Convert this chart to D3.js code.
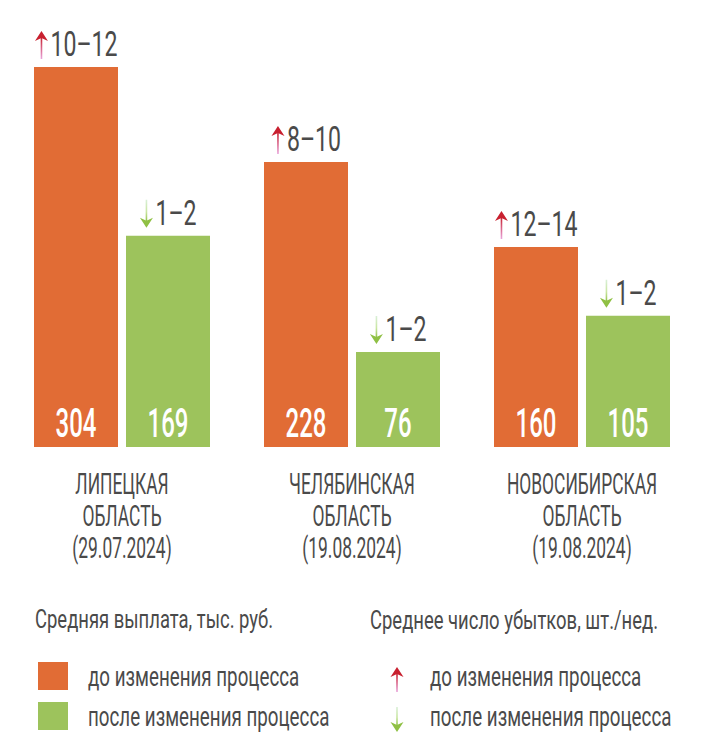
<!DOCTYPE html>
<html>
<head>
<meta charset="utf-8">
<script src="https://cdn.jsdelivr.net/npm/d3@7"></script>
<style>
  html, body { margin: 0; padding: 0; background: #ffffff; }
  svg { display: block; font-family: Roboto, "Noto Sans", sans-serif; }
</style>
</head>
<body>
<svg id="chart" width="713" height="755"></svg>
<script>
// ---- data ----
const regions = ["Липецкая", "Челябинская", "Новосибирская"];
const regionLines = [
  ["ЛИПЕЦКАЯ", "ОБЛАСТЬ", "(29.07.2024)"],
  ["ЧЕЛЯБИНСКАЯ", "ОБЛАСТЬ", "(19.08.2024)"],
  ["НОВОСИБИРСКАЯ", "ОБЛАСТЬ", "(19.08.2024)"]
];
const payoutBefore = [304, 228, 160];
const payoutAfter = [169, 76, 105];
const lossesBefore = ["10–12", "8–10", "12–14"];
const lossesAfter = ["1–2", "1–2", "1–2"];
const seriesKeys = ["before", "after"];
const legendPayoutTitle = "Средняя выплата, тыс. руб.";
const legendLossTitle = "Среднее число убытков, шт./нед.";
const legendLabels = ["до изменения процесса", "после изменения процесса"];

// ---- styles ----
const COLORS = { before: "#e16c35", after: "#9dc35c" };
const TEXT = "#4a4a4a";
const SX = 0.64; // horizontal condensation

const svg = d3.select("#chart");
const defs = svg.append("defs");
const gUp = defs.append("linearGradient").attr("id", "gradUp").attr("x1", 0).attr("y1", 0).attr("x2", 0).attr("y2", 1);
gUp.append("stop").attr("offset", "0%").attr("stop-color", "#c8202f");
gUp.append("stop").attr("offset", "100%").attr("stop-color", "#e9a6dc");
const gDown = defs.append("linearGradient").attr("id", "gradDown").attr("x1", 0).attr("y1", 0).attr("x2", 0).attr("y2", 1);
gDown.append("stop").attr("offset", "0%").attr("stop-color", "#d9efd8");
gDown.append("stop").attr("offset", "55%").attr("stop-color", "#c9e6a0");
gDown.append("stop").attr("offset", "100%").attr("stop-color", "#8fc044");

// ---- scales ----
const x0 = d3.scaleBand().domain(regions).range([34, 670]).paddingInner(54 / 230).paddingOuter(0);
const x1 = d3.scaleBand().domain(seriesKeys).range([0, x0.bandwidth()]).paddingInner(8 / 92).paddingOuter(0);
const y = d3.scaleLinear().domain([0, 320]).range([447, 47]);

const data = regions.map((r, i) => ({
  region: r, i,
  values: [
    { key: "before", value: payoutBefore[i], loss: lossesBefore[i] },
    { key: "after", value: payoutAfter[i], loss: lossesAfter[i] }
  ]
}));

// condensed text helper
function ctext(parent, x, yy, str, size, opts = {}) {
  const g = parent.append("g").attr("transform", `translate(${x},${yy}) scale(${opts.sx || SX},1)`);
  const t = g.append("text")
    .attr("x", 0).attr("y", 0)
    .attr("text-anchor", opts.anchor || "start")
    .attr("font-size", size)
    .attr("font-weight", opts.weight || 400)
    .attr("fill", opts.fill || TEXT)
    .text(str);
  return { g, width: t.node().getComputedTextLength() * (opts.sx || SX) };
}

function arrow(parent, cx, base, up, h) {
  const g = parent.append("g");
  const top = base - h;
  if (up) {
    g.append("rect").attr("x", cx - 0.8).attr("y", top + 6).attr("width", 1.6).attr("height", h - 6)
      .attr("fill", "url(#gradUp)");
    g.append("path").attr("d", `M${cx},${top} L${cx + 6.5},${top + 10} L${cx},${top + 7} L${cx - 6.5},${top + 10} Z`)
      .attr("fill", "#c8202f");
  } else {
    g.append("rect").attr("x", cx - 0.8).attr("y", top).attr("width", 1.6).attr("height", h - 6)
      .attr("fill", "url(#gradDown)");
    g.append("path").attr("d", `M${cx},${base} L${cx + 6.5},${base - 10} L${cx},${base - 7} L${cx - 6.5},${base - 10} Z`)
      .attr("fill", "#8fc044");
  }
  return g;
}

// ---- bars ----
const groups = svg.append("g").selectAll("g.grp").data(data).join("g")
  .attr("class", "grp")
  .attr("transform", d => `translate(${x0(d.region)},0)`);

groups.selectAll("rect.bar").data(d => d.values).join("rect")
  .attr("class", "bar")
  .attr("x", d => x1(d.key))
  .attr("y", d => y(d.value))
  .attr("width", x1.bandwidth())
  .attr("height", d => y(0) - y(d.value))
  .attr("fill", d => COLORS[d.key]);

groups.each(function (d) {
  const g = d3.select(this);
  d.values.forEach(v => {
    const cx = x1(v.key) + x1.bandwidth() / 2;
    // value label inside bar
    ctext(g, cx, y(0) - 10, String(v.value), 40, { anchor: "middle", weight: 500, fill: "#ffffff", sx: 0.6 });
    // loss label above bar
    const base = y(v.value) - 11;
    const tmp = ctext(g, 0, base, v.loss, 35, { anchor: "start", sx: 0.66 });
    const aw = 14, gap = 2;
    const total = aw + gap + tmp.width;
    const start = cx - total / 2;
    tmp.g.attr("transform", `translate(${start + aw + gap},${base}) scale(0.66,1)`);
    arrow(g, start + aw / 2, base + 3, v.key === "before", 28);
  });
  // region label
  const gc = x0.bandwidth() / 2;
  regionLines[d.i].forEach((line, k) => {
    ctext(g, gc, 494 + k * 32, line, 29, { anchor: "middle", sx: 0.6 });
  });
});

// ---- legend ----
const leg = svg.append("g");
ctext(leg, 35, 628, legendPayoutTitle, 26, { sx: 0.71 });
ctext(leg, 370, 629, legendLossTitle, 26, { sx: 0.71 });
seriesKeys.forEach((k, i) => {
  const by = 686 + i * 40;
  leg.append("rect").attr("x", 38).attr("y", by - 24).attr("width", 30).attr("height", 28).attr("fill", COLORS[k]);
  ctext(leg, 88, by, legendLabels[i], 27, { sx: 0.695 });
  arrow(leg, 397, i === 0 ? 692 : 732, i === 0, 25);
  ctext(leg, 430, by, legendLabels[i], 27, { sx: 0.695 });
});
</script>
</body>
</html>
